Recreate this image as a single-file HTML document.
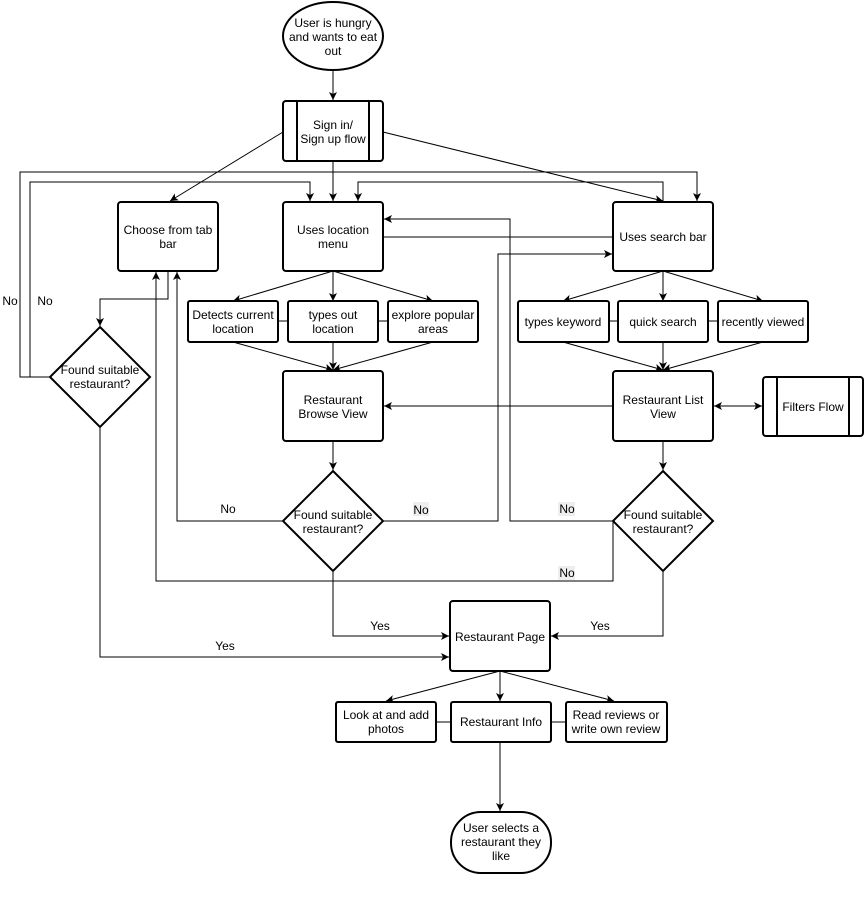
<!DOCTYPE html>
<html><head><meta charset="utf-8"><style>
body{margin:0;background:#fff}
svg{display:block}
text{font-family:"Liberation Sans",Arial,sans-serif;font-size:12px;fill:#000;text-anchor:middle}
.b{fill:#fff;stroke:#000;stroke-width:2}
.l{fill:none;stroke:#000;stroke-width:1}
</style></head><body>
<svg width="865" height="906" viewBox="0 0 865 906">
<defs><marker id="a" markerWidth="10" markerHeight="10" refX="8" refY="4" orient="auto" markerUnits="userSpaceOnUse"><path d="M0,0 L8,4 L0,8 L2,4 z" fill="#000"/></marker></defs>
<g class="l" marker-end="url(#a)">
<path d="M333,70 V100"/>
<path d="M283,132 L170,201"/>
<path d="M383,132 L663,201"/>
<path d="M333,161 V201"/>
<path d="M50,377 H20 V172 H697 V201"/>
<path d="M50,377 H30 V182 H310 V201"/>
<path d="M663,202 V182 H358 V201"/>
<path d="M613,521 H510 V219 H384"/>
<path d="M283,521 H177 V272"/>
<path d="M383,521 H498 V254 H612"/>
<path d="M613,521 V581 H156 V272"/>
<path d="M168,271 V299 H100 V326"/>
<path d="M333,271 L233,301"/><path d="M333,271 V301"/><path d="M333,271 L433,301"/>
<path d="M663,271 L563,301"/><path d="M663,271 V301"/><path d="M663,271 L763,301"/>
<path d="M233,342 L333,370"/><path d="M333,342 V370"/><path d="M433,342 L333,370"/>
<path d="M563,342 L663,370"/><path d="M663,342 V370"/><path d="M763,342 L663,370"/>
<path d="M613,406 H384"/>
<path d="M720,406 H762"/>
<path d="M756,406 H714"/>
<path d="M333,441 V470"/><path d="M663,441 V470"/>
<path d="M333,571 V636 H449"/>
<path d="M663,571 V636 H551"/>
<path d="M100,426 V657 H449"/>
<path d="M500,671 L386,701"/><path d="M500,671 V701"/><path d="M500,671 L614,701"/>
<path d="M500,742 V811"/>
</g>
<path class="l" d="M383,237 H613 M278,321 H288 M378,321 H388 M609,321 H618 M708,321 H718 M436,722 H451 M551,722 H566"/>
<ellipse class="b" cx="333" cy="36" rx="50" ry="34"/>
<text x="333" y="27">User is hungry</text><text x="333" y="41">and wants to eat</text><text x="333" y="55">out</text>
<rect class="b" x="283" y="101" width="100" height="60" rx="3"/><path class="l" stroke-width="2" d="M297,101 V161 M369,101 V161" style="stroke-width:2"/>
<text x="333" y="129">Sign in/</text><text x="333" y="143">Sign up flow</text>
<rect class="b" x="118" y="202" width="100" height="69" rx="3"/><text x="168" y="234">Choose from tab</text><text x="168" y="248">bar</text>
<rect class="b" x="283" y="202" width="100" height="69" rx="3"/><text x="333" y="234">Uses location</text><text x="333" y="248">menu</text>
<rect class="b" x="613" y="202" width="100" height="69" rx="3"/><text x="663" y="241">Uses search bar</text>
<rect class="b" x="188" y="301" width="90" height="41" rx="2"/><text x="233" y="319">Detects current</text><text x="233" y="333">location</text>
<rect class="b" x="288" y="301" width="90" height="41" rx="2"/><text x="333" y="319">types out</text><text x="333" y="333">location</text>
<rect class="b" x="388" y="301" width="90" height="41" rx="2"/><text x="433" y="319">explore popular</text><text x="433" y="333">areas</text>
<rect class="b" x="518" y="301" width="91" height="41" rx="2"/><text x="563" y="326">types keyword</text>
<rect class="b" x="618" y="301" width="90" height="41" rx="2"/><text x="663" y="326">quick search</text>
<rect class="b" x="718" y="301" width="90" height="41" rx="2"/><text x="763" y="326">recently viewed</text>
<rect class="b" x="283" y="371" width="100" height="70" rx="3"/><text x="333" y="404">Restaurant</text><text x="333" y="418">Browse View</text>
<rect class="b" x="613" y="371" width="100" height="70" rx="3"/><text x="663" y="404">Restaurant List</text><text x="663" y="418">View</text>
<rect class="b" x="763" y="377" width="100" height="59" rx="3"/><path d="M777,377 V436 M849,377 V436" stroke="#000" stroke-width="2"/><text x="813" y="411">Filters Flow</text>
<path class="b" d="M100,327 L150,377 L100,427 L50,377 Z"/><text x="100" y="374">Found suitable</text><text x="100" y="388">restaurant?</text>
<path class="b" d="M333,471 L383,521 L333,571 L283,521 Z"/><text x="333" y="519">Found suitable</text><text x="333" y="533">restaurant?</text>
<path class="b" d="M663,471 L713,521 L663,571 L613,521 Z"/><text x="663" y="519">Found suitable</text><text x="663" y="533">restaurant?</text>
<rect class="b" x="450" y="601" width="100" height="70" rx="3"/><text x="500" y="641">Restaurant Page</text>
<rect class="b" x="336" y="702" width="100" height="40" rx="2"/><text x="386" y="719">Look at and add</text><text x="386" y="733">photos</text>
<rect class="b" x="451" y="702" width="100" height="40" rx="2"/><text x="501" y="726">Restaurant Info</text>
<rect class="b" x="566" y="702" width="101" height="40" rx="2"/><text x="616" y="719">Read reviews or</text><text x="616" y="733">write own review</text>
<rect class="b" x="451" y="812" width="100" height="61" rx="30"/><text x="501" y="832">User selects a</text><text x="501" y="846">restaurant they</text><text x="501" y="860">like</text>
<rect x="413" y="502" width="16" height="14" fill="#eee"/><rect x="558" y="502" width="17" height="14" fill="#eee"/><rect x="558" y="566" width="17" height="14" fill="#eee"/>
<text x="10" y="305">No</text><text x="45" y="305">No</text>
<text x="228" y="513">No</text><text x="421" y="514">No</text><text x="567" y="513">No</text><text x="567" y="577">No</text>
<text x="380" y="630">Yes</text><text x="600" y="630">Yes</text><text x="225" y="650">Yes</text>
</svg>
</body></html>
